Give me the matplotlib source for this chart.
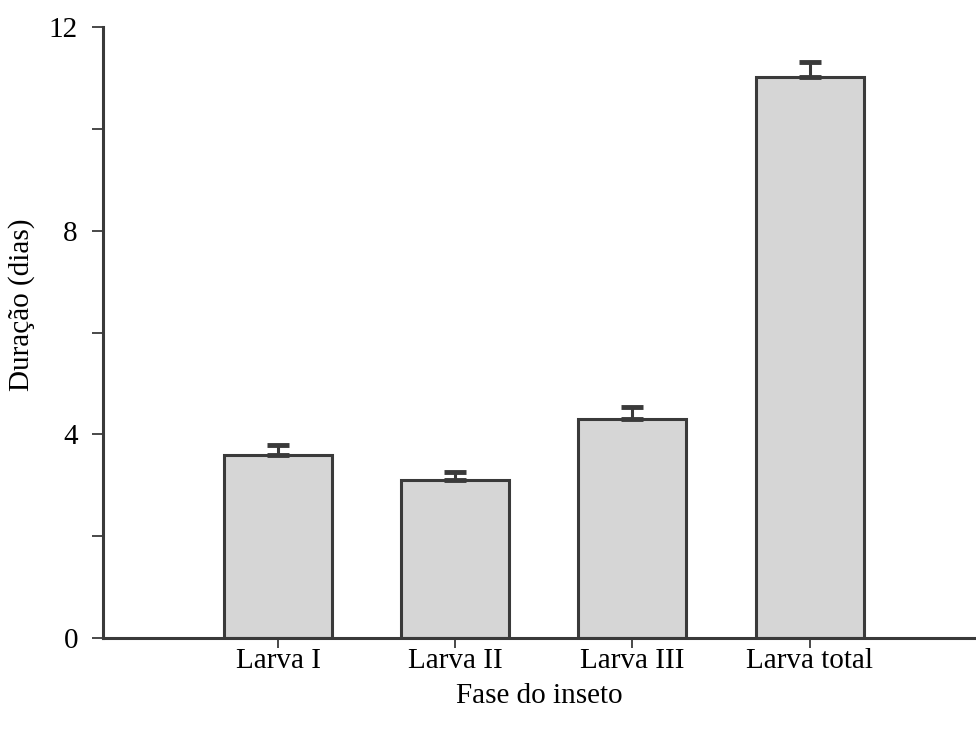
import numpy as np
import matplotlib.pyplot as plt
from matplotlib.ticker import MultipleLocator

# Data
fases = ['Larva I', 'Larva II', 'Larva III', 'Larva total']
duracao = [3.59, 3.10, 4.30, 11.02]
erro = [0.20, 0.16, 0.24, 0.29]

plt.rcParams['font.family'] = ['Liberation Serif', 'DejaVu Serif']

fig = plt.figure(figsize=(9.76, 7.31), dpi=100)
ax = fig.add_axes([0.1055, 0.1272, 0.8945, 0.8358])

x = np.arange(len(fases))
ax.bar(x, duracao, width=0.61, color='#d6d6d6', edgecolor='#3a3a3a', linewidth=2.2, zorder=2)
ax.errorbar(x, duracao, yerr=[np.zeros(len(erro)), erro], fmt='none',
            ecolor='#3a3a3a', elinewidth=2.2, capsize=8, capthick=3.5, zorder=3)

ax.set_xlim(-0.99, 3.94)
ax.set_ylim(0, 12)
ax.set_xticks(x)
ax.set_xticklabels(fases)
ax.yaxis.set_major_locator(MultipleLocator(4))
ax.yaxis.set_minor_locator(MultipleLocator(2))

for s in ['top', 'right']:
    ax.spines[s].set_visible(False)
for s in ['left', 'bottom']:
    ax.spines[s].set_linewidth(2.2)
    ax.spines[s].set_color('#3a3a3a')

ax.tick_params(axis='y', which='major', length=8, width=1.3, color='#3a3a3a',
               labelsize=21, pad=10)
ax.tick_params(axis='x', which='major', length=7, width=1.3, color='#3a3a3a',
               labelsize=21, pad=0)
ax.tick_params(axis='y', which='minor', length=8, width=1.3, color='#3a3a3a')

ax.set_xlabel('Fase do inseto', fontsize=21, labelpad=7)
ax.set_ylabel('Duração (dias)', fontsize=21)
ax.yaxis.set_label_coords(-0.078, 0.545)

fig.savefig('out.png', dpi=100)
